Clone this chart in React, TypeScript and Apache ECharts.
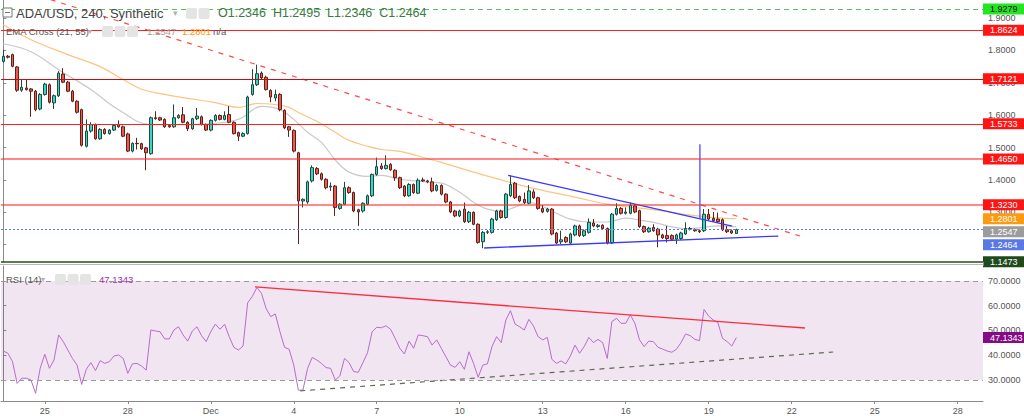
import React, { useEffect, useRef } from "react";
import * as echarts from "echarts";

const FONT = '"Liberation Sans", Arial, sans-serif';

// ---- time slots (4h candles) ----
const slotCount = 213;
const firstSlot = Date.UTC(2021, 10, 23, 12);
const categories: string[] = Array.from({ length: slotCount }, (_, i) =>
  new Date(firstSlot + i * 4 * 3600 * 1000).toISOString().slice(0, 16).replace("T", " ")
);
const tickDays = [
  "2021-11-25", "2021-11-28", "2021-12-01", "2021-12-04", "2021-12-07", "2021-12-10",
  "2021-12-13", "2021-12-16", "2021-12-19", "2021-12-22", "2021-12-25", "2021-12-28",
];
const monthNames = ["Jan", "Feb", "Mar", "Apr", "May", "Jun", "Jul", "Aug", "Sep", "Oct", "Nov", "Dec"];

// ---- candles: [open, close, low, high] ----
const candles: number[][] = [
  [1.766, 1.782, 1.762, 1.802], [1.782, 1.779, 1.775, 1.786], [1.787, 1.751, 1.748, 1.790], [1.749, 1.677, 1.672, 1.752],
  [1.677, 1.686, 1.672, 1.710], [1.684, 1.679, 1.676, 1.710], [1.681, 1.674, 1.595, 1.684], [1.674, 1.617, 1.612, 1.678],
  [1.619, 1.664, 1.615, 1.668], [1.664, 1.696, 1.660, 1.700], [1.694, 1.640, 1.636, 1.698], [1.638, 1.660, 1.619, 1.664],
  [1.660, 1.730, 1.656, 1.736], [1.727, 1.702, 1.699, 1.745], [1.702, 1.674, 1.671, 1.706], [1.674, 1.643, 1.640, 1.678],
  [1.643, 1.609, 1.605, 1.646], [1.617, 1.507, 1.503, 1.620], [1.504, 1.551, 1.500, 1.587], [1.551, 1.571, 1.546, 1.578],
  [1.571, 1.527, 1.524, 1.574], [1.527, 1.556, 1.524, 1.560], [1.556, 1.543, 1.540, 1.560], [1.543, 1.554, 1.540, 1.557],
  [1.554, 1.568, 1.551, 1.571], [1.571, 1.564, 1.561, 1.584], [1.564, 1.535, 1.532, 1.568], [1.542, 1.489, 1.486, 1.546],
  [1.489, 1.513, 1.485, 1.516], [1.513, 1.512, 1.494, 1.530], [1.512, 1.496, 1.493, 1.515], [1.499, 1.484, 1.430, 1.502],
  [1.481, 1.592, 1.478, 1.596], [1.592, 1.589, 1.586, 1.612], [1.592, 1.585, 1.582, 1.595], [1.587, 1.564, 1.561, 1.590],
  [1.568, 1.564, 1.561, 1.571], [1.564, 1.592, 1.561, 1.633], [1.592, 1.599, 1.589, 1.603], [1.601, 1.578, 1.575, 1.625],
  [1.578, 1.558, 1.551, 1.581], [1.558, 1.589, 1.555, 1.592], [1.589, 1.597, 1.585, 1.622], [1.595, 1.571, 1.568, 1.599],
  [1.571, 1.554, 1.551, 1.574], [1.554, 1.584, 1.550, 1.587], [1.584, 1.599, 1.580, 1.603], [1.599, 1.587, 1.584, 1.602],
  [1.587, 1.599, 1.584, 1.612], [1.602, 1.578, 1.575, 1.628], [1.578, 1.543, 1.540, 1.581], [1.546, 1.535, 1.520, 1.549],
  [1.535, 1.543, 1.532, 1.547], [1.543, 1.656, 1.540, 1.660], [1.664, 1.694, 1.660, 1.742], [1.694, 1.728, 1.690, 1.756],
  [1.730, 1.715, 1.710, 1.735], [1.717, 1.679, 1.676, 1.722], [1.676, 1.656, 1.640, 1.680], [1.653, 1.664, 1.643, 1.679],
  [1.664, 1.617, 1.612, 1.668], [1.615, 1.561, 1.557, 1.618], [1.564, 1.554, 1.533, 1.567], [1.553, 1.489, 1.485, 1.556],
  [1.484, 1.335, 1.202, 1.487], [1.335, 1.340, 1.315, 1.343], [1.332, 1.394, 1.326, 1.398], [1.397, 1.438, 1.392, 1.445],
  [1.435, 1.419, 1.415, 1.440], [1.419, 1.402, 1.398, 1.423], [1.402, 1.376, 1.371, 1.405], [1.378, 1.381, 1.366, 1.392],
  [1.381, 1.315, 1.289, 1.384], [1.312, 1.325, 1.308, 1.328], [1.325, 1.376, 1.322, 1.394], [1.376, 1.361, 1.357, 1.380],
  [1.361, 1.304, 1.300, 1.364], [1.308, 1.301, 1.258, 1.311], [1.304, 1.328, 1.299, 1.331], [1.325, 1.351, 1.322, 1.355],
  [1.351, 1.417, 1.347, 1.420], [1.417, 1.441, 1.413, 1.469], [1.443, 1.435, 1.431, 1.452], [1.435, 1.445, 1.432, 1.476],
  [1.448, 1.431, 1.428, 1.452], [1.430, 1.407, 1.397, 1.433], [1.407, 1.376, 1.372, 1.410], [1.381, 1.351, 1.347, 1.384],
  [1.351, 1.386, 1.348, 1.390], [1.386, 1.361, 1.357, 1.389], [1.359, 1.399, 1.356, 1.405], [1.400, 1.397, 1.394, 1.407],
  [1.397, 1.394, 1.390, 1.400], [1.394, 1.366, 1.362, 1.407], [1.368, 1.383, 1.364, 1.387], [1.383, 1.356, 1.352, 1.386],
  [1.356, 1.332, 1.328, 1.359], [1.332, 1.301, 1.297, 1.335], [1.304, 1.289, 1.285, 1.308], [1.289, 1.304, 1.285, 1.308],
  [1.310, 1.271, 1.267, 1.330], [1.271, 1.300, 1.267, 1.304], [1.300, 1.263, 1.260, 1.303], [1.263, 1.207, 1.203, 1.266],
  [1.209, 1.238, 1.189, 1.242], [1.238, 1.240, 1.233, 1.245], [1.238, 1.279, 1.234, 1.283], [1.277, 1.304, 1.273, 1.308],
  [1.304, 1.284, 1.280, 1.308], [1.284, 1.356, 1.280, 1.360], [1.351, 1.386, 1.347, 1.414], [1.390, 1.345, 1.341, 1.394],
  [1.349, 1.335, 1.331, 1.352], [1.340, 1.330, 1.326, 1.361], [1.328, 1.366, 1.325, 1.384], [1.363, 1.345, 1.341, 1.371],
  [1.345, 1.312, 1.308, 1.348], [1.312, 1.301, 1.297, 1.322], [1.303, 1.310, 1.299, 1.314], [1.310, 1.233, 1.229, 1.313],
  [1.236, 1.205, 1.202, 1.239], [1.209, 1.215, 1.202, 1.243], [1.222, 1.209, 1.205, 1.226], [1.205, 1.233, 1.202, 1.237],
  [1.230, 1.258, 1.226, 1.262], [1.258, 1.228, 1.224, 1.262], [1.228, 1.243, 1.224, 1.247], [1.238, 1.269, 1.234, 1.281],
  [1.267, 1.258, 1.254, 1.279], [1.256, 1.260, 1.252, 1.264], [1.260, 1.250, 1.247, 1.263], [1.250, 1.205, 1.201, 1.253],
  [1.205, 1.294, 1.202, 1.298], [1.294, 1.312, 1.290, 1.328], [1.312, 1.297, 1.293, 1.316], [1.297, 1.301, 1.293, 1.315],
  [1.297, 1.322, 1.294, 1.330], [1.320, 1.301, 1.297, 1.326], [1.305, 1.256, 1.252, 1.308], [1.256, 1.240, 1.236, 1.259],
  [1.240, 1.251, 1.237, 1.255], [1.253, 1.243, 1.240, 1.263], [1.248, 1.230, 1.192, 1.252], [1.230, 1.221, 1.218, 1.234],
  [1.228, 1.219, 1.207, 1.258], [1.228, 1.217, 1.213, 1.232], [1.217, 1.230, 1.202, 1.234], [1.219, 1.236, 1.215, 1.240],
  [1.233, 1.250, 1.230, 1.269], [1.248, 1.250, 1.244, 1.255], [1.246, 1.243, 1.240, 1.250], [1.243, 1.240, 1.236, 1.247],
  [1.243, 1.294, 1.239, 1.310], [1.294, 1.279, 1.275, 1.310], [1.281, 1.274, 1.270, 1.301], [1.279, 1.271, 1.267, 1.299],
  [1.277, 1.246, 1.242, 1.281], [1.246, 1.240, 1.236, 1.258], [1.243, 1.236, 1.233, 1.247], [1.2346, 1.2464, 1.2346, 1.2495],
];

// ---- EMA lines read at sample candles: [candle index, value] ----
const ema21: number[][] = [
  [0, 1.8205], [6, 1.796], [12, 1.7405], [19, 1.679], [25, 1.617], [32, 1.571], [38, 1.571], [45, 1.574],
  [51, 1.587], [56, 1.627], [60, 1.617], [63, 1.587], [66, 1.547], [69, 1.516], [72, 1.462], [75, 1.424],
  [79, 1.411], [82, 1.414], [86, 1.402], [90, 1.396], [93, 1.392], [95, 1.39], [99, 1.362], [102, 1.331],
  [105, 1.31], [108, 1.304], [111, 1.316], [114, 1.331], [117, 1.318], [119, 1.304], [123, 1.279], [127, 1.27],
  [131, 1.27], [135, 1.282], [138, 1.276], [142, 1.266], [145, 1.255], [148, 1.249], [151, 1.252], [155, 1.258],
  [159, 1.2547],
];
const ema55: number[][] = [
  [0, 1.879], [6, 1.833], [14, 1.787], [21, 1.75], [26, 1.71], [30, 1.68], [35, 1.664], [39, 1.654],
  [46, 1.639], [51, 1.624], [55, 1.636], [59, 1.633], [62, 1.624], [64, 1.608], [68, 1.581], [72, 1.547],
  [75, 1.522], [79, 1.504], [82, 1.494], [86, 1.488], [90, 1.474], [95, 1.454], [102, 1.424], [109, 1.396],
  [116, 1.371], [124, 1.347], [131, 1.325], [138, 1.313], [143, 1.304], [147, 1.295], [151, 1.288], [155, 1.283],
  [159, 1.2801],
];

// ---- RSI(14) per candle ----
const rsi: number[] = [
  41.7, 40.8, 37.4, 28.6, 30.7, 30.7, 30.0, 24.6, 34.7, 40.4, 34.7, 38.1, 48.2, 45.5, 42.1, 38.7,
  36.0, 28.2, 34.3, 37.0, 33.8, 37.8, 36.7, 37.4, 39.7, 40.1, 38.7, 32.7, 36.5, 36.7, 35.6, 34.0,
  50.2, 49.8, 49.5, 46.6, 46.6, 50.2, 51.5, 48.2, 45.7, 49.8, 51.5, 47.9, 45.5, 49.5, 52.6, 50.5,
  52.5, 47.5, 43.2, 42.1, 43.7, 61.2, 63.7, 67.4, 65.0, 58.9, 55.6, 56.7, 49.5, 43.2, 42.4, 36.0,
  25.9, 25.9, 34.7, 39.1, 38.1, 36.7, 35.0, 34.7, 30.0, 31.6, 38.7, 37.0, 33.4, 33.1, 37.0, 41.0,
  49.5, 51.3, 51.1, 51.9, 50.5, 46.8, 42.8, 40.5, 45.7, 42.8, 48.2, 47.9, 47.5, 44.1, 46.2, 42.8,
  39.4, 36.0, 35.1, 37.4, 34.3, 41.4, 36.7, 31.1, 36.0, 36.5, 43.5, 47.5, 45.1, 54.2, 58.0, 52.6,
  51.5, 50.2, 54.5, 51.8, 47.5, 46.2, 47.2, 38.3, 36.7, 37.7, 36.5, 39.7, 44.1, 40.8, 43.5, 47.2,
  45.1, 46.4, 45.1, 38.7, 53.6, 54.9, 52.9, 52.9, 56.3, 52.9, 46.2, 43.5, 45.7, 45.5, 43.2, 42.5,
  41.7, 41.2, 42.4, 45.1, 48.6, 47.9, 46.4, 45.9, 58.5, 55.8, 54.2, 53.2, 46.8, 45.5, 43.7, 47.1343,
];

// ---- drawn trend lines: [candle index, value] ----
const priceTrendDown = [[8, 1.967], [172.8, 1.2267]];
const triangleUpper = [[109.5, 1.4144], [158.1, 1.2575]];
const triangleLower = [[104.3, 1.1898], [168.1, 1.2267]];
const spikeMarker = [[151.1, 1.5098], [151.1, 1.281]];
const rsiResistance = [[54.6, 67.6], [173.9, 51.0]];
const rsiSupport = [[64.4, 25.6], [180, 41.3]];

// ---- horizontal levels ----
const topLevel = 1.9279;
const resistanceLevels = [1.8624, 1.7121, 1.5733, 1.465, 1.323];
const bottomLevel = 1.1473;
const lastClose = 1.2464;
const ema21Last = 1.2547;
const ema55Last = 1.2801;
const rsiBands = [30, 70];
const rsiLast = 47.1343;

// ---- legend texts ----
const symbolTitle = "ADA/USD, 240, Synthetic";
const ohlcText = "O1.2346  H1.2495  L1.2346  C1.2464";
const emaTitle = "EMA Cross (21, 55)";
const rsiTitle = "RSI (14)";

const HIDDEN_LINE = { color: "rgba(0,0,0,0)", width: 0 };

const tag = (bg: string, fg: string, shift = 0) => ({
  show: true,
  position: "end",
  distance: 0,
  opacity: 1,
  formatter: (p: any) => (shift ? "{g| }\n" : "") + "{t|" + Number(p.value).toFixed(4) + "}",
  rich: {
    g: { height: shift * 2, lineHeight: shift * 2, fontSize: 1 },
    t: {
      backgroundColor: bg,
      color: fg,
      padding: [1, 7, 1, 7],
      fontSize: 9,
      lineHeight: 10,
      fontFamily: FONT,
    },
  },
});

const legendIcons = (x0: number, y: number, n: number) =>
  Array.from({ length: n }, (_, k) => ({
    type: "rect",
    shape: { x: x0 + k * 12.5, y: y - 5, width: 11, height: 11, r: 2 },
    style: { fill: "#e4e4e4" },
    z: 100,
  }));

export default function App() {
  const ref = useRef<HTMLDivElement>(null);

  useEffect(() => {
    if (!ref.current) return;
    const chart = echarts.init(ref.current, undefined, { renderer: "svg" });

    const upColor = "#36d6c8";
    const downColor = "#ea5a4e";

    const levelData: any[] = [
      {
        yAxis: topLevel,
        lineStyle: { color: "#5cbf5c", type: [5, 4], width: 1 },
        label: tag("#22e622", "#111"),
      },
      ...resistanceLevels.map((v, k) => ({
        yAxis: v,
        lineStyle:
          k >= 3
            ? { color: "rgba(255,40,40,0.55)", width: 2, type: "solid" }
            : { color: k === 1 ? "#c01010" : "#ff1f1f", width: 1, type: "solid" },
        label: tag("#ff1414", "#fff"),
      })),
      { yAxis: ema55Last, lineStyle: HIDDEN_LINE, label: tag("#ff9a0f", "#fff") },
      { yAxis: ema21Last, lineStyle: HIDDEN_LINE, label: tag("#9c9c9c", "#fff", 4.7) },
      {
        yAxis: lastClose,
        lineStyle: { color: "#5b7cf0", type: [2, 2], width: 1 },
        label: tag("#5878e6", "#fff", 15.2),
      },
      {
        yAxis: bottomLevel,
        lineStyle: { color: "#2c4a26", width: 1.5, type: "solid" },
        label: tag("#1f4a1c", "#fff"),
      },
    ];

    const option: any = {
      animation: false,
      backgroundColor: "#ffffff",
      textStyle: { fontFamily: FONT },
      grid: [
        { left: 1, width: 982, top: 0, height: 262 },
        { left: 1, width: 982, top: 266, height: 135 },
      ],
      xAxis: [
        {
          type: "category", gridIndex: 0, data: categories, boundaryGap: true,
          axisLine: { show: false }, axisTick: { show: false }, axisLabel: { show: false }, splitLine: { show: false },
        },
        {
          type: "category", gridIndex: 1, data: categories, boundaryGap: true,
          axisLine: { show: true, lineStyle: { color: "#8a8a8a", width: 1 } },
          axisTick: {
            show: true, alignWithLabel: true, length: 3, lineStyle: { color: "#8a8a8a" },
            interval: (_i: number, v: string) => v.endsWith("00:00") && tickDays.includes(v.slice(0, 10)),
          },
          axisLabel: {
            show: true, color: "#555", fontSize: 9, margin: 5, fontFamily: FONT,
            interval: (_i: number, v: string) => v.endsWith("00:00") && tickDays.includes(v.slice(0, 10)),
            formatter: (v: string) => {
              const day = Number(v.slice(8, 10));
              return day === 1 ? monthNames[Number(v.slice(5, 7)) - 1] : String(day);
            },
          },
          splitLine: { show: false },
        },
        { type: "value", gridIndex: 0, min: -0.5, max: slotCount - 0.5, show: false },
        { type: "value", gridIndex: 1, min: -0.5, max: slotCount - 0.5, show: false },
      ],
      yAxis: [
        {
          type: "value", gridIndex: 0, position: "right", min: 1.1465, max: 1.9557, splitNumber: 8,
          scale: true,
          axisLine: { show: true, lineStyle: { color: "#8a8a8a" } },
          axisTick: { show: true, length: 3, lineStyle: { color: "#8a8a8a" } },
          axisLabel: {
            color: "#555", fontSize: 9, margin: 5, fontFamily: FONT,
            showMinLabel: false, showMaxLabel: false,
            formatter: (v: number) => v.toFixed(4),
          },
          splitLine: { show: false },
        },
        {
          type: "value", gridIndex: 1, position: "right", min: 21.5, max: 76.06, splitNumber: 5,
          axisLine: { show: true, lineStyle: { color: "#8a8a8a" } },
          axisTick: { show: true, length: 3, lineStyle: { color: "#8a8a8a" } },
          axisLabel: {
            color: "#555", fontSize: 9, margin: 5, fontFamily: FONT,
            showMinLabel: false, showMaxLabel: false,
            formatter: (v: number) => v.toFixed(4),
          },
          splitLine: { show: false },
        },
      ],
      series: [
        {
          type: "line", xAxisIndex: 2, yAxisIndex: 0, data: ema21, smooth: 0.4, symbol: "none", z: 2,
          lineStyle: { color: "#c9c9c9", width: 1.2 },
        },
        {
          type: "line", xAxisIndex: 2, yAxisIndex: 0, data: ema55, smooth: 0.4, symbol: "none", z: 2,
          lineStyle: { color: "#fcc383", width: 1.2 },
        },
        {
          type: "line", xAxisIndex: 0, yAxisIndex: 0, data: [], clip: false, z: 1,
          markLine: { silent: true, symbol: ["none", "none"], precision: 4, data: levelData },
        },
        {
          type: "candlestick", xAxisIndex: 0, yAxisIndex: 0, data: candles, barWidth: 3, z: 3,
          itemStyle: {
            color: upColor, color0: downColor, borderColor: "#23473a", borderColor0: "#5e2019", borderWidth: 1,
          },
        },
        {
          type: "line", xAxisIndex: 2, yAxisIndex: 0, data: priceTrendDown, symbol: "none", z: 4,
          lineStyle: { color: "#ff4a4a", width: 1.2, type: [5, 6] },
        },
        {
          type: "line", xAxisIndex: 2, yAxisIndex: 0, data: triangleUpper, symbol: "none", z: 4,
          lineStyle: { color: "#3a3aff", width: 1.3 },
        },
        {
          type: "line", xAxisIndex: 2, yAxisIndex: 0, data: triangleLower, symbol: "none", z: 4,
          lineStyle: { color: "#3a3aff", width: 1.3 },
        },
        {
          type: "line", xAxisIndex: 2, yAxisIndex: 0, data: spikeMarker, symbol: "none", z: 4,
          lineStyle: { color: "#3a3aff", width: 1.2 },
        },
        // RSI pane
        {
          type: "line", xAxisIndex: 1, yAxisIndex: 1, data: [], clip: false, z: 1,
          markArea: {
            silent: true,
            itemStyle: { color: "rgba(128,0,128,0.1)" },
            data: [[{ yAxis: rsiBands[0] }, { yAxis: rsiBands[1] }]],
          },
          markLine: {
            silent: true, symbol: ["none", "none"], precision: 4,
            data: [
              ...rsiBands.map((v) => ({
                yAxis: v, lineStyle: { color: "#9a9a9a", type: [5, 4], width: 1 }, label: { show: false },
              })),
              { yAxis: rsiLast, lineStyle: HIDDEN_LINE, label: tag("#850a85", "#fff") },
            ],
          },
        },
        {
          type: "line", xAxisIndex: 1, yAxisIndex: 1, data: rsi, symbol: "none", z: 3,
          lineStyle: { color: "#b66ccb", width: 1 },
        },
        {
          type: "line", xAxisIndex: 3, yAxisIndex: 1, data: rsiResistance, symbol: "none", z: 4,
          lineStyle: { color: "#ff2b3a", width: 1.3 },
        },
        {
          type: "line", xAxisIndex: 3, yAxisIndex: 1, data: rsiSupport, symbol: "none", z: 4,
          lineStyle: { color: "#5d6a52", width: 1.2, type: [5, 5] },
        },
      ],
      graphic: [
        { type: "rect", shape: { x: 0, y: 264, width: 983, height: 1 }, style: { fill: "#b8b8b8" }, z: 50 },
        { type: "rect", shape: { x: 983, y: 262, width: 1, height: 4 }, style: { fill: "#8a8a8a" }, z: 50 },
        // price legend
        {
          type: "rect", shape: { x: 3, y: 8, width: 9, height: 9 },
          style: { fill: "#fff", stroke: "#777", lineWidth: 1 }, z: 100,
        },
        { type: "rect", shape: { x: 5, y: 12, width: 5, height: 1 }, style: { fill: "#777" }, z: 100 },
        {
          type: "text", x: 16, y: 13, z: 100,
          style: { text: symbolTitle, fill: "#444", font: `13px ${FONT}`, verticalAlign: "middle" },
        },
        {
          type: "text", x: 173, y: 13, z: 100,
          style: { text: "▾", fill: "#b0b0b0", font: `9px ${FONT}`, verticalAlign: "middle" },
        },
        ...legendIcons(186, 13, 2),
        {
          type: "text", x: 218, y: 13, z: 100,
          style: { text: ohlcText, fill: "#3b7a45", font: `12.5px ${FONT}`, verticalAlign: "middle" },
        },
        // EMA legend
        {
          type: "text", x: 6, y: 31, z: 100,
          style: { text: emaTitle, fill: "#555", font: `9.5px ${FONT}`, verticalAlign: "middle" },
        },
        {
          type: "text", x: 88, y: 31, z: 100,
          style: { text: "▾", fill: "#b0b0b0", font: `8px ${FONT}`, verticalAlign: "middle" },
        },
        ...legendIcons(102, 31, 3),
        {
          type: "text", x: 147, y: 31, z: 100,
          style: { text: ema21Last.toFixed(4), fill: "#9e9e9e", font: `9.5px ${FONT}`, verticalAlign: "middle" },
        },
        {
          type: "text", x: 182, y: 31, z: 100,
          style: { text: ema55Last.toFixed(4), fill: "#ff9800", font: `9.5px ${FONT}`, verticalAlign: "middle" },
        },
        {
          type: "text", x: 213, y: 31, z: 100,
          style: { text: "n/a", fill: "#555", font: `9.5px ${FONT}`, verticalAlign: "middle" },
        },
        // RSI legend
        {
          type: "text", x: 6, y: 279, z: 100,
          style: { text: rsiTitle, fill: "#555", font: `9.5px ${FONT}`, verticalAlign: "middle" },
        },
        {
          type: "text", x: 41, y: 279, z: 100,
          style: { text: "▾", fill: "#b0b0b0", font: `8px ${FONT}`, verticalAlign: "middle" },
        },
        ...legendIcons(55, 279, 3),
        {
          type: "text", x: 99, y: 279, z: 100,
          style: { text: rsiLast.toFixed(4), fill: "#9b2fae", font: `9.5px ${FONT}`, verticalAlign: "middle" },
        },
      ],
    };

    chart.setOption(option);
    return () => chart.dispose();
  }, []);

  return (
    <div
      ref={ref}
      style={{ position: "fixed", left: 0, top: 0, width: 1024, height: 416, background: "#fff" }}
    />
  );
}
